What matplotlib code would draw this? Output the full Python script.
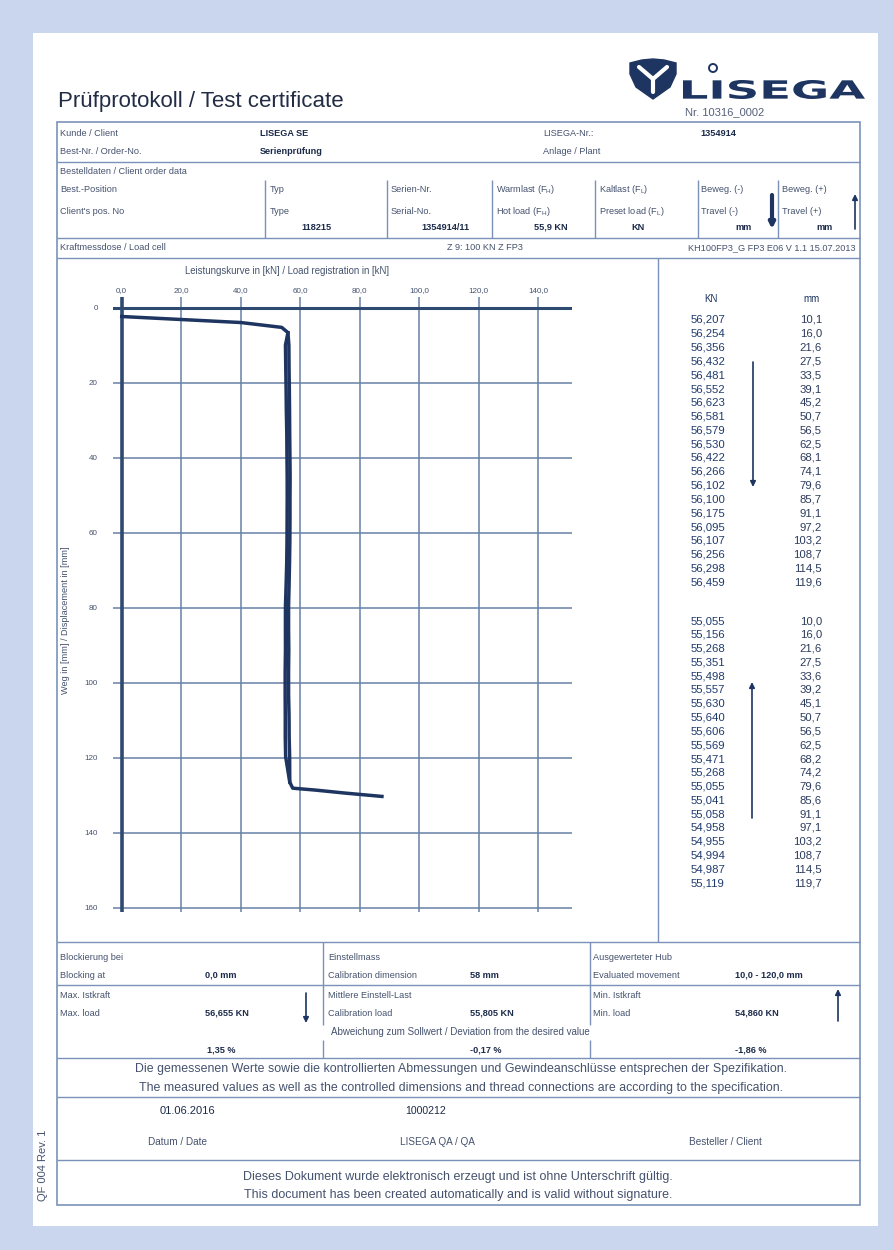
import matplotlib
matplotlib.use("Agg")
import matplotlib.pyplot as plt
from matplotlib.patches import Rectangle, Polygon, PathPatch, Circle
from matplotlib.textpath import TextPath
from matplotlib.font_manager import FontProperties
from matplotlib.transforms import Affine2D

plt.rcParams['font.family'] = ['Liberation Sans', 'DejaVu Sans']

# axis ticks of the load registration chart
load_ticks = [0, 20, 40, 60, 80, 100, 120, 140]
load_labels = ["0,0", "20,0", "40,0", "60,0", "80,0", "100,0", "120,0", "140,0"]
travel_ticks = [0, 20, 40, 60, 80, 100, 120, 140, 160]
travel_labels = ["0", "20", "40", "60", "80", "100", "120", "140", "160"]

# curve (kN / mm)
start_kn = [0.0, 20.0, 40.0, 53.8, 55.9]
start_mm = [2.4, 3.2, 4.0, 5.3, 6.7]
end_kn = [56.5, 57.5, 65.0, 75.0, 87.5]
end_mm = [126.5, 128.1, 128.6, 129.4, 130.3]

# measured table, travel downwards
down_kn = [56.207, 56.254, 56.356, 56.432, 56.481, 56.552, 56.623, 56.581, 56.579, 56.530,
           56.422, 56.266, 56.102, 56.100, 56.175, 56.095, 56.107, 56.256, 56.298, 56.459]
down_mm = [10.1, 16.0, 21.6, 27.5, 33.5, 39.1, 45.2, 50.7, 56.5, 62.5,
           68.1, 74.1, 79.6, 85.7, 91.1, 97.2, 103.2, 108.7, 114.5, 119.6]
# measured table, travel upwards
up_kn = [55.055, 55.156, 55.268, 55.351, 55.498, 55.557, 55.630, 55.640, 55.606, 55.569,
         55.471, 55.268, 55.055, 55.041, 55.058, 54.958, 54.955, 54.994, 54.987, 55.119]
up_mm = [10.0, 16.0, 21.6, 27.5, 33.6, 39.2, 45.1, 50.7, 56.5, 62.5,
         68.2, 74.2, 79.6, 85.6, 91.1, 97.1, 103.2, 108.7, 114.5, 119.7]

BG = '#c9d6ee'
LINE = '#7a92b8'
LBL = '#45526e'
VAL = '#1c2b4a'
NAVY = '#1d3560'
GRID = '#6781a8'

W, H = 893, 1250
fig = plt.figure(figsize=(W / 100, H / 100), dpi=100)
fig.patch.set_facecolor(BG)

ov = fig.add_axes([0, 0, 1, 1])
ov.set_xlim(0, W)
ov.set_ylim(H, 0)
ov.axis('off')
ov.add_patch(Rectangle((33, 33), 845, 1193, fc='white', ec='none'))


def t(x, y, s, size=6.6, ha='left', bold=False, color=None, **kw):
    ov.text(x, y, s, fontsize=size, ha=ha, va='center',
            fontweight='bold' if bold else 'normal',
            color=color or (VAL if bold else LBL), **kw)


def hl(y, x0=57, x1=860, lw=1.0):
    ov.plot([x0, x1], [y, y], color=LINE, lw=lw, solid_capstyle='butt')


def vl(x, y0, y1, lw=1.0):
    ov.plot([x, x], [y0, y1], color=LINE, lw=lw, solid_capstyle='butt')


def arrow(x, y_from, y_to, lw=1.2):
    ov.annotate('', xy=(x, y_to), xytext=(x, y_from),
                arrowprops=dict(arrowstyle='-|>', color=NAVY, lw=lw,
                                mutation_scale=8, shrinkA=0, shrinkB=0))


# title and logo
t(58, 102, "Prüfprotokoll / Test certificate", size=16, color='#222c45')
shield = [(630, 63), (642, 60), (653, 59), (664, 60), (676, 63), (676, 74), (670, 87),
          (653, 99), (636, 87), (630, 74)]
ov.add_patch(Polygon(shield, closed=True, fc=NAVY, ec=NAVY))
ov.plot([639, 653, 667], [67, 79, 67], color='white', lw=3, solid_capstyle='round')
ov.plot([653, 653], [79, 92], color='white', lw=3, solid_capstyle='round')
tp = TextPath((0, 0), "LISEGA", size=1, prop=FontProperties(family='DejaVu Sans', weight='bold'))
ext = tp.get_extents()
tr = Affine2D().translate(-ext.x0, -ext.y0).scale(182 / ext.width, -19 / ext.height).translate(683, 99)
ov.add_patch(PathPatch(tr.transform_path(tp), fc=NAVY, ec='none'))
ov.add_patch(Circle((713, 68), 4, fc='none', ec=NAVY, lw=1.4))
t(685, 112, "Nr. 10316_0002", size=8, color='#55607a')

# frame
ov.add_patch(Rectangle((57, 122), 803, 1083, fc='none', ec=LINE, lw=1.2))
for y in [162, 238, 258, 942, 985, 1058, 1097, 1160]:
    hl(y)
vl(658, 258, 942)
for x in [265, 387, 492, 595, 698, 778]:
    vl(x, 180, 238)
for x in [323, 590]:
    vl(x, 942, 1025)
    vl(x, 1040, 1058)

# header block
t(60, 133, "Kunde / Client"); t(260, 133, "LISEGA SE", bold=True)
t(543, 133, "LISEGA-Nr.:"); t(700, 133, "1354914", bold=True)
t(60, 151, "Best-Nr. / Order-No."); t(260, 151, "Serienprüfung", bold=True)
t(543, 151, "Anlage / Plant")
t(60, 172, "Bestelldaten / Client order data")
t(60, 190, "Best.-Position"); t(60, 211, "Client's pos. No")
t(270, 190, "Typ"); t(270, 211, "Type"); t(332, 227, "118215", ha='right', bold=True)
t(391, 190, "Serien-Nr."); t(391, 211, "Serial-No."); t(470, 227, "1354914/11", ha='right', bold=True)
t(496, 190, r"Warmlast (F$_{\mathregular{H}}$)"); t(496, 211, r"Hot load (F$_{\mathregular{H}}$)")
t(568, 227, "55,9 KN", ha='right', bold=True)
t(599, 190, r"Kaltlast (F$_{\mathregular{L}}$)"); t(599, 211, r"Preset load (F$_{\mathregular{L}}$)")
t(645, 227, "KN", ha='right', bold=True)
t(701, 190, "Beweg. (-)"); t(701, 211, "Travel (-)"); t(752, 227, "mm", ha='right', bold=True)
arrow(772, 195, 229, lw=3)
t(782, 190, "Beweg. (+)"); t(782, 211, "Travel (+)"); t(833, 227, "mm", ha='right', bold=True)
arrow(855, 229, 194, lw=1.2)
t(60, 248, "Kraftmessdose / Load cell"); t(447, 248, "Z 9: 100 KN Z FP3")
t(855, 248, "KH100FP3_G FP3 E06 V 1.1 15.07.2013", ha='right')

# chart labels
t(185, 271, "Leistungskurve in [kN] / Load registration in [kN]", size=6.9)
ov.text(66, 620, "Weg in [mm] / Displacement in [mm]", fontsize=6.6, color=LBL,
        rotation=90, ha='center', va='center')

# measured value table on the right
t(711, 299, "KN", size=7, ha='center', color=NAVY)
t(812, 299, "mm", size=7, ha='center', color=NAVY)
for i, (kn, mm) in enumerate(zip(down_kn, down_mm)):
    y = 320 + i * 13.8
    t(691, y, f"{kn:.3f}".replace('.', ','), size=8.2, color='#1f3b6e')
    t(822, y, f"{mm:.1f}".replace('.', ','), size=8.2, ha='right', color='#2c3b5c')
for i, (kn, mm) in enumerate(zip(up_kn, up_mm)):
    y = 621 + i * 13.8
    t(691, y, f"{kn:.3f}".replace('.', ','), size=8.2, color='#1f3b6e')
    t(822, y, f"{mm:.1f}".replace('.', ','), size=8.2, ha='right', color='#2c3b5c')
arrow(753, 362, 487)
arrow(752, 818, 682)

# result block
t(60, 957, "Blockierung bei"); t(60, 975, "Blocking at"); t(205, 975, "0,0 mm", bold=True)
t(328, 957, "Einstellmass"); t(328, 975, "Calibration dimension"); t(470, 975, "58 mm", bold=True)
t(593, 957, "Ausgewerteter Hub"); t(593, 975, "Evaluated movement")
t(735, 975, "10,0 - 120,0 mm", bold=True)
t(60, 996, "Max. Istkraft"); t(60, 1013, "Max. load"); t(205, 1013, "56,655 KN", bold=True)
arrow(306, 993, 1023)
t(328, 996, "Mittlere Einstell-Last"); t(328, 1013, "Calibration load")
t(470, 1013, "55,805 KN", bold=True)
t(593, 996, "Min. Istkraft"); t(593, 1013, "Min. load"); t(735, 1013, "54,860 KN", bold=True)
arrow(838, 1021, 989)
t(460, 1032, "Abweichung zum Sollwert / Deviation from the desired value", size=7, ha='center')
t(207, 1050, "1,35 %", bold=True); t(470, 1050, "-0,17 %", bold=True); t(735, 1050, "-1,86 %", bold=True)

t(461, 1069, "Die gemessenen Werte sowie die kontrollierten Abmessungen und Gewindeanschlüsse "
             "entsprechen der Spezifikation.", size=8.9, ha='center')
t(461, 1088, "The measured values as well as the controlled dimensions and thread connections "
             "are according to the specification.", size=8.9, ha='center')
t(160, 1111, "01.06.2016", size=8, color=VAL); t(405, 1111, "1000212", size=7.6, color=VAL)
t(178, 1142, "Datum / Date", size=7.2, ha='center')
t(437, 1142, "LISEGA QA / QA", size=7.2, ha='center')
t(725, 1142, "Besteller / Client", size=7.2, ha='center')
t(458, 1177, "Dieses Dokument wurde elektronisch erzeugt und ist ohne Unterschrift gültig.",
  size=9.0, ha='center')
t(458, 1195, "This document has been created automatically and is valid without signature.",
  size=9.0, ha='center')
ov.text(43, 1165, "QF 004 Rev. 1", fontsize=8, color=LBL, rotation=90, ha='center', va='center')

# load registration chart
x0_px, x1_px, y0_px, y1_px = 113, 572, 297, 912
ax = fig.add_axes([x0_px / W, 1 - y1_px / H, (x1_px - x0_px) / W, (y1_px - y0_px) / H])
ax.patch.set_alpha(0)
ax.set_xlim(-2.93, 151.4)
ax.set_ylim(161.1, -2.8)
for s in ax.spines.values():
    s.set_visible(False)
ax.xaxis.tick_top()
ax.set_xticks(load_ticks, load_labels)
ax.set_yticks(travel_ticks, travel_labels)
ax.tick_params(length=0, labelsize=5.8, labelcolor=LBL)
ax.tick_params(axis='x', pad=2)
ax.tick_params(axis='y', pad=11)
for v in load_ticks[1:]:
    ax.axvline(v, color=GRID, lw=1.1, zorder=1)
for v in travel_ticks[1:]:
    ax.axhline(v, color=GRID, lw=1.1, zorder=1)
ax.axhline(0, color='#2f4a70', lw=2.2, zorder=2)
ax.axvline(0, color='#2f4a70', lw=2.6, zorder=2)

ax.plot(start_kn + down_kn + end_kn, start_mm + down_mm + end_mm, color=NAVY, lw=2.5, zorder=3)
ax.plot(end_kn[:1] + up_kn[::-1] + start_kn[-1:], end_mm[:1] + up_mm[::-1] + start_mm[-1:],
        color=NAVY, lw=2.5, zorder=3)

fig.savefig("out.png", dpi=100, facecolor=BG)
